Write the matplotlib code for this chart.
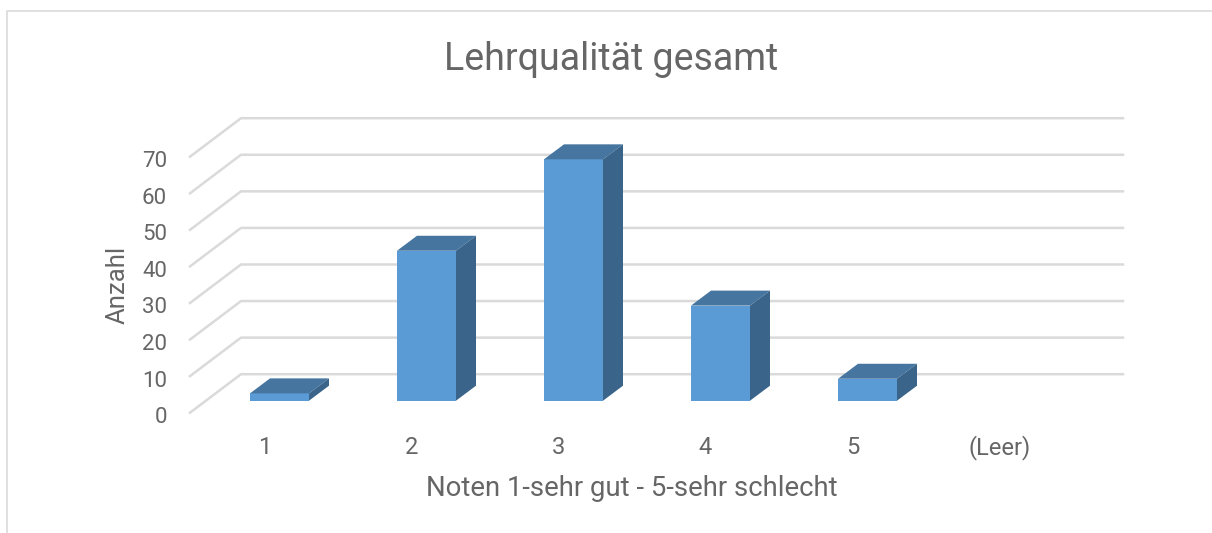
import matplotlib
matplotlib.use('Agg')
import matplotlib.pyplot as plt
from matplotlib.lines import Line2D
from matplotlib.patches import Polygon

categories = ['1', '2', '3', '4', '5', '(Leer)']
values = [2, 41, 66, 26, 6, 0]
y_ticks = [0, 10, 20, 30, 40, 50, 60, 70]

title = 'Lehrqualität gesamt'
x_title = 'Noten 1-sehr gut - 5-sehr schlecht'
y_title = 'Anzahl'

W, H = 1212, 533
text_color = '#666666'
grid_color = '#DADADA'
front_color = '#5B9BD5'
top_color = '#4675A0'
side_color = '#3A6489'

plt.rcParams['font.family'] = ['Roboto', 'DejaVu Sans']

fig = plt.figure(figsize=(W / 100, H / 100), dpi=100)

# bar plane in pixels, everything else hangs off the data scale
left, right, base, top = 206, 1088, 400.7, 144.7
ax = fig.add_axes([left / W, 1 - base / H, (right - left) / W, (base - top) / H])
ax.set_xlim(-0.5, 5.5)
ax.set_ylim(0, 70)
ax.axis('off')

px_x = 6 / (right - left)
px_y = 70 / (base - top)


def shift(x, y, dx, dy):
    return x + dx * px_x, y + dy * px_y


# floor and wall lines
for v in y_ticks:
    back_l = shift(-0.5, v, 35, 26.5)
    back_r = shift(5.5, v, 35, 26.5)
    front = shift(-0.5, v, -16, -12)
    ax.add_line(Line2D([front[0], back_l[0], back_r[0]], [front[1], back_l[1], back_r[1]],
                       color=grid_color, lw=1.8, clip_on=False, zorder=1))
    ax.text(*shift(-0.5, v, -39, -17), str(v), ha='right', va='center', fontsize=16,
            color=text_color, clip_on=False)

# 3d bars
bar_w = 59 * px_x
for i, v in enumerate(values):
    if v == 0:
        continue
    x0, x1 = i - bar_w / 2, i + bar_w / 2
    ax.bar(i, v, width=bar_w, color=front_color, zorder=3)
    top_pts = [(x0, v), (x1, v), shift(x1, v, 20, 15), shift(x0, v, 20, 15)]
    side_pts = [(x1, 0), (x1, v), shift(x1, v, 20, 15), shift(x1, 0, 20, 15)]
    ax.add_patch(Polygon(top_pts, color=top_color, lw=0, zorder=3, clip_on=False))
    ax.add_patch(Polygon(side_pts, color=side_color, lw=0, zorder=3, clip_on=False))

for i, c in enumerate(categories):
    ax.text(*shift(i, 0, -15, -47), c, ha='center', va='center', fontsize=17,
            color=text_color, clip_on=False)

fig.text(611 / W, 1 - 60 / H, title, ha='center', va='center', fontsize=27, color=text_color)
fig.text(632 / W, 1 - 489 / H, x_title, ha='center', va='center', fontsize=19.8, color=text_color)
fig.text(118 / W, 1 - 285 / H, y_title, ha='center', va='center', rotation=90, fontsize=18.5,
         color=text_color)

# chart frame
fig.add_artist(Line2D([7 / W, 7 / W, 1], [0, 1 - 11 / H, 1 - 11 / H], color=grid_color, lw=1.2))

fig.savefig('out.png', dpi=100)
